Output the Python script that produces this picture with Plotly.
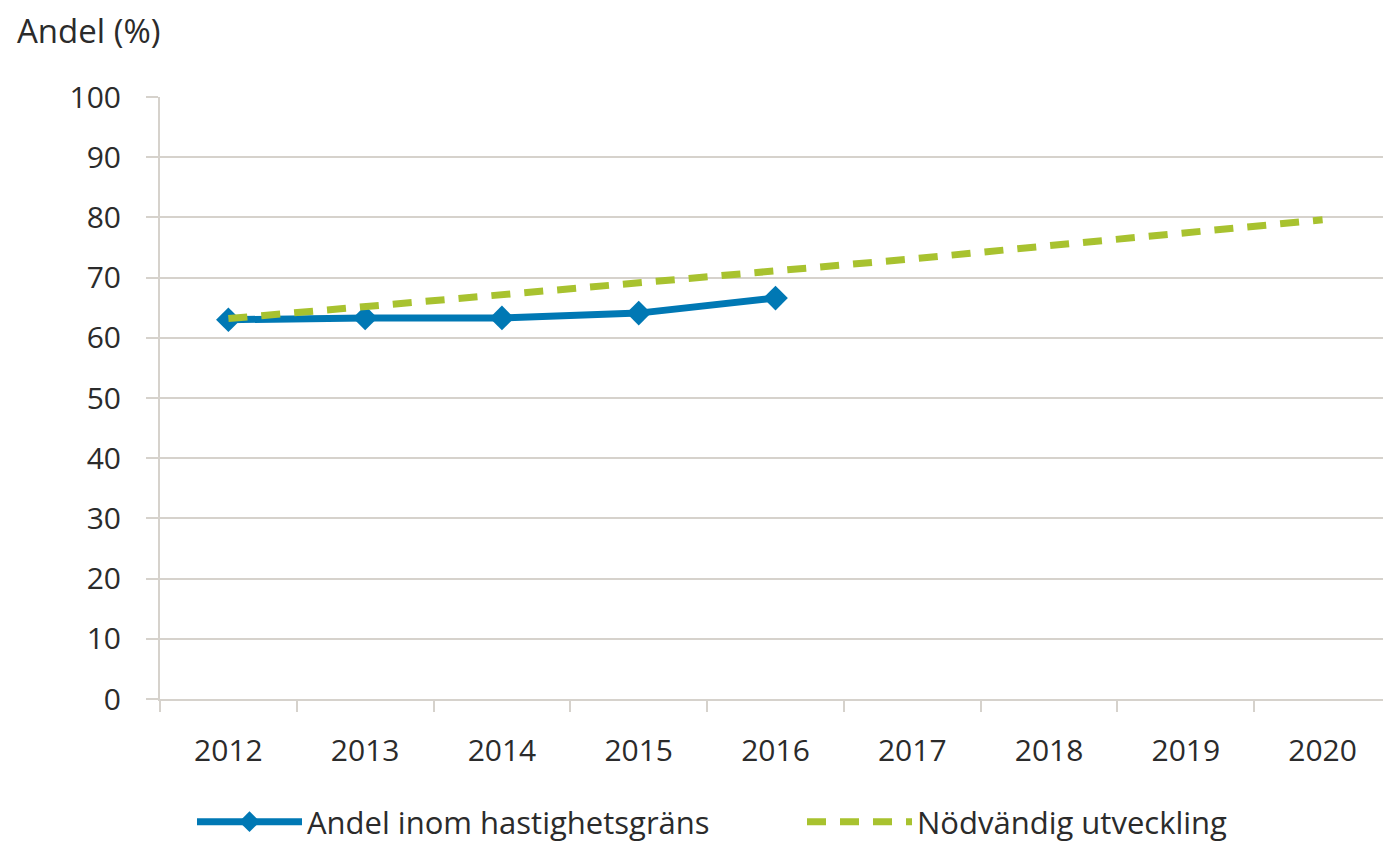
import plotly.graph_objects as go

years = ["2012", "2013", "2014", "2015", "2016", "2017", "2018", "2019", "2020"]
actual_years = ["2012", "2013", "2014", "2015", "2016"]
actual_values = [63.0, 63.3, 63.3, 64.1, 66.6]
target_values = [63.2, 65.2, 67.2, 69.1, 71.0, 73.1, 75.3, 77.4, 79.6]
y_ticks = [0, 10, 20, 30, 40, 50, 60, 70, 80, 90, 100]

BLUE = "#0078B4"
GREEN = "#A8C22F"
GRID = "#D6D2CC"
TEXT = "#2B2B2B"
FONT = "Open Sans, Lato, DejaVu Sans, sans-serif"

fig = go.Figure()
fig.add_trace(go.Scatter(
    x=actual_years, y=actual_values, name="Andel inom hastighetsgräns",
    mode="lines+markers",
    line=dict(color=BLUE, width=7),
    marker=dict(symbol="diamond", size=19, color=BLUE),
))
fig.add_trace(go.Scatter(
    x=years, y=target_values, name="Nödvändig utveckling",
    mode="lines",
    line=dict(color=GREEN, width=7, dash="19px,14px"),
))

W, H = 1383, 839
fig.update_layout(
    width=W, height=H,
    margin=dict(l=152, r=0, t=89, b=148),
    paper_bgcolor="white", plot_bgcolor="white",
    font=dict(family=FONT, size=30, color=TEXT),
    showlegend=True,
    legend=dict(orientation="h", xref="container", yref="container",
                x=184 / W, xanchor="left", y=1 - 814 / H, yanchor="middle",
                font=dict(size=31, color=TEXT), entrywidth=490, entrywidthmode="pixels",
                itemwidth=105, traceorder="normal", bgcolor="rgba(0,0,0,0)"),
    xaxis=dict(type="category", categoryorder="array", categoryarray=years,
               range=[-0.5, 8.5], showgrid=False, tickson="boundaries",
               ticks="outside", ticklen=11, tickwidth=2, tickcolor=GRID,
               showline=True, linecolor=GRID, linewidth=2,
               ticklabelstandoff=24, tickfont=dict(size=30, color=TEXT)),
    yaxis=dict(range=[0, 100], tickvals=y_ticks, showgrid=True, gridcolor=GRID,
               gridwidth=2, zeroline=False, ticks="outside", ticklen=12,
               tickwidth=2, tickcolor=GRID, showline=True, linecolor=GRID,
               linewidth=2, ticklabelstandoff=19, tickfont=dict(size=30, color=TEXT)),
)
fig.add_annotation(text="Andel (%)", xref="paper", yref="paper",
                   x=(7 - 152) / 1231, y=1 + (89 - 22) / 602,
                   xanchor="left", yanchor="middle", showarrow=False,
                   font=dict(size=33, color=TEXT))

fig.write_html("out.html")
